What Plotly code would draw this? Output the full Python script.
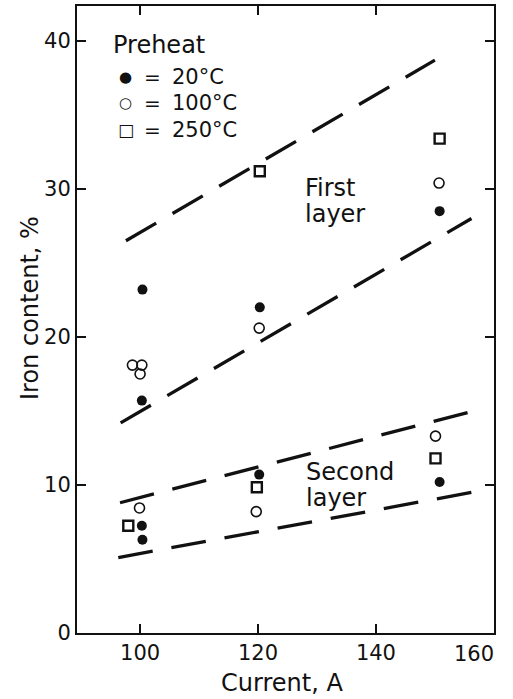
import plotly.graph_objects as go

# ---- data ----
# First layer
first_20_x = [100.4, 100.3, 120.3, 150.8]
first_20_y = [23.2, 15.7, 22.0, 28.5]
first_100_x = [98.7, 100.3, 100.0, 120.2, 150.7]
first_100_y = [18.1, 18.1, 17.5, 20.6, 30.4]
first_250_x = [120.3, 150.8]
first_250_y = [31.2, 33.4]
# Second layer
second_20_x = [100.3, 100.4, 120.2, 150.8]
second_20_y = [7.25, 6.3, 10.7, 10.2]
second_100_x = [99.9, 119.7, 150.1]
second_100_y = [8.45, 8.2, 13.3]
second_250_x = [98.0, 119.8, 150.1]
second_250_y = [7.25, 9.85, 11.8]

# dashed trend lines (start, end)
line_upper_first_x = [97.6, 150.0]
line_upper_first_y = [26.5, 38.7]
line_lower_first_x = [96.7, 156.2]
line_lower_first_y = [14.2, 28.0]
line_upper_second_x = [96.6, 156.6]
line_upper_second_y = [8.8, 15.0]
line_lower_second_x = [96.3, 157.6]
line_lower_second_y = [5.1, 9.6]

x_ticks = [100, 120, 140, 160]
x_tick_labels = ["100", "120", "140", ""]   # last label drawn right-aligned below
last_x_label = "160"
y_ticks = [0, 10, 20, 30, 40]

FONT = "DejaVu Sans"
INK = "#111111"

fig = go.Figure()

for lx, ly in [(line_upper_first_x, line_upper_first_y),
               (line_lower_first_x, line_lower_first_y),
               (line_upper_second_x, line_upper_second_y),
               (line_lower_second_x, line_lower_second_y)]:
    fig.add_trace(go.Scatter(x=lx, y=ly, mode="lines",
                             line=dict(color=INK, width=3.3, dash="35px,19px"),
                             showlegend=False, hoverinfo="skip"))

def filled(x, y):
    return go.Scatter(x=x, y=y, mode="markers", showlegend=False,
                      marker=dict(symbol="circle", size=10, color=INK,
                                  line=dict(width=0)))

def opened(x, y):
    return go.Scatter(x=x, y=y, mode="markers", showlegend=False,
                      marker=dict(symbol="circle-open", size=10, color=INK,
                                  line=dict(width=1.6, color=INK)))

def square(x, y):
    return go.Scatter(x=x, y=y, mode="markers", showlegend=False,
                      marker=dict(symbol="square-open", size=10, color=INK,
                                  line=dict(width=2.4, color=INK)))

fig.add_trace(filled(first_20_x, first_20_y))
fig.add_trace(opened(first_100_x, first_100_y))
fig.add_trace(square(first_250_x, first_250_y))
fig.add_trace(filled(second_20_x, second_20_y))
fig.add_trace(opened(second_100_x, second_100_y))
fig.add_trace(square(second_250_x, second_250_y))

W, H = 513, 699
L, R, T, B = 77, 19, 6, 66
PW, PH = W - L - R, H - T - B

def px(x):
    return (x - L) / PW

def py(y):
    return (H - B - y) / PH

ann = []
def txt(s, x, y, size=24, xanchor="left", angle=0):
    ann.append(dict(text=s, x=px(x), y=py(y), xref="paper", yref="paper",
                    showarrow=False, xanchor=xanchor, yanchor="middle",
                    textangle=angle,
                    font=dict(family=FONT, size=size, color=INK)))

txt("Preheat", 111, 45)
txt("●", 117, 77, size=15)
txt("○", 117, 103, size=15)
txt("□", 116, 130, size=17)
for yy, lab in [(77, "20°C"), (103, "100°C"), (130, "250°C")]:
    txt("=", 142, yy, size=20)
    txt(lab, 170, yy, size=21)
txt("First", 303, 188)
txt("layer", 303, 214)
txt("Second", 304, 472)
txt("layer", 304, 498)
# axis titles
txt("Current, A", 282, 683, xanchor="center")
txt("Iron content, %", 30, 308, xanchor="center", angle=-90)
# last x tick label, right-aligned to the axis end as in the reference
ann.append(dict(text=last_x_label, x=x_ticks[-1], xref="x", y=py(654),
                yref="paper", xshift=2, showarrow=False, xanchor="right",
                yanchor="middle", font=dict(family=FONT, size=21, color=INK)))

axis_common = dict(showline=True, linecolor=INK, linewidth=2, mirror="ticks",
                   ticks="inside", ticklen=9, tickwidth=2, tickcolor=INK,
                   showgrid=False, zeroline=False, automargin=False,
                   tickfont=dict(family=FONT, size=21, color=INK))

fig.update_layout(
    width=W, height=H,
    margin=dict(l=L, r=R, t=T, b=B, autoexpand=False),
    paper_bgcolor="white", plot_bgcolor="white",
    annotations=ann,
    xaxis=dict(range=[89.3, 160.02], tickvals=x_ticks, ticktext=x_tick_labels,
               **axis_common),
    yaxis=dict(range=[0, 42.36], tickvals=y_ticks, **axis_common),
)

fig.write_html("out.html",
               config={"displayModeBar": False},
               post_script="document.body.style.margin='0';"
                           "document.body.style.padding='0';")
